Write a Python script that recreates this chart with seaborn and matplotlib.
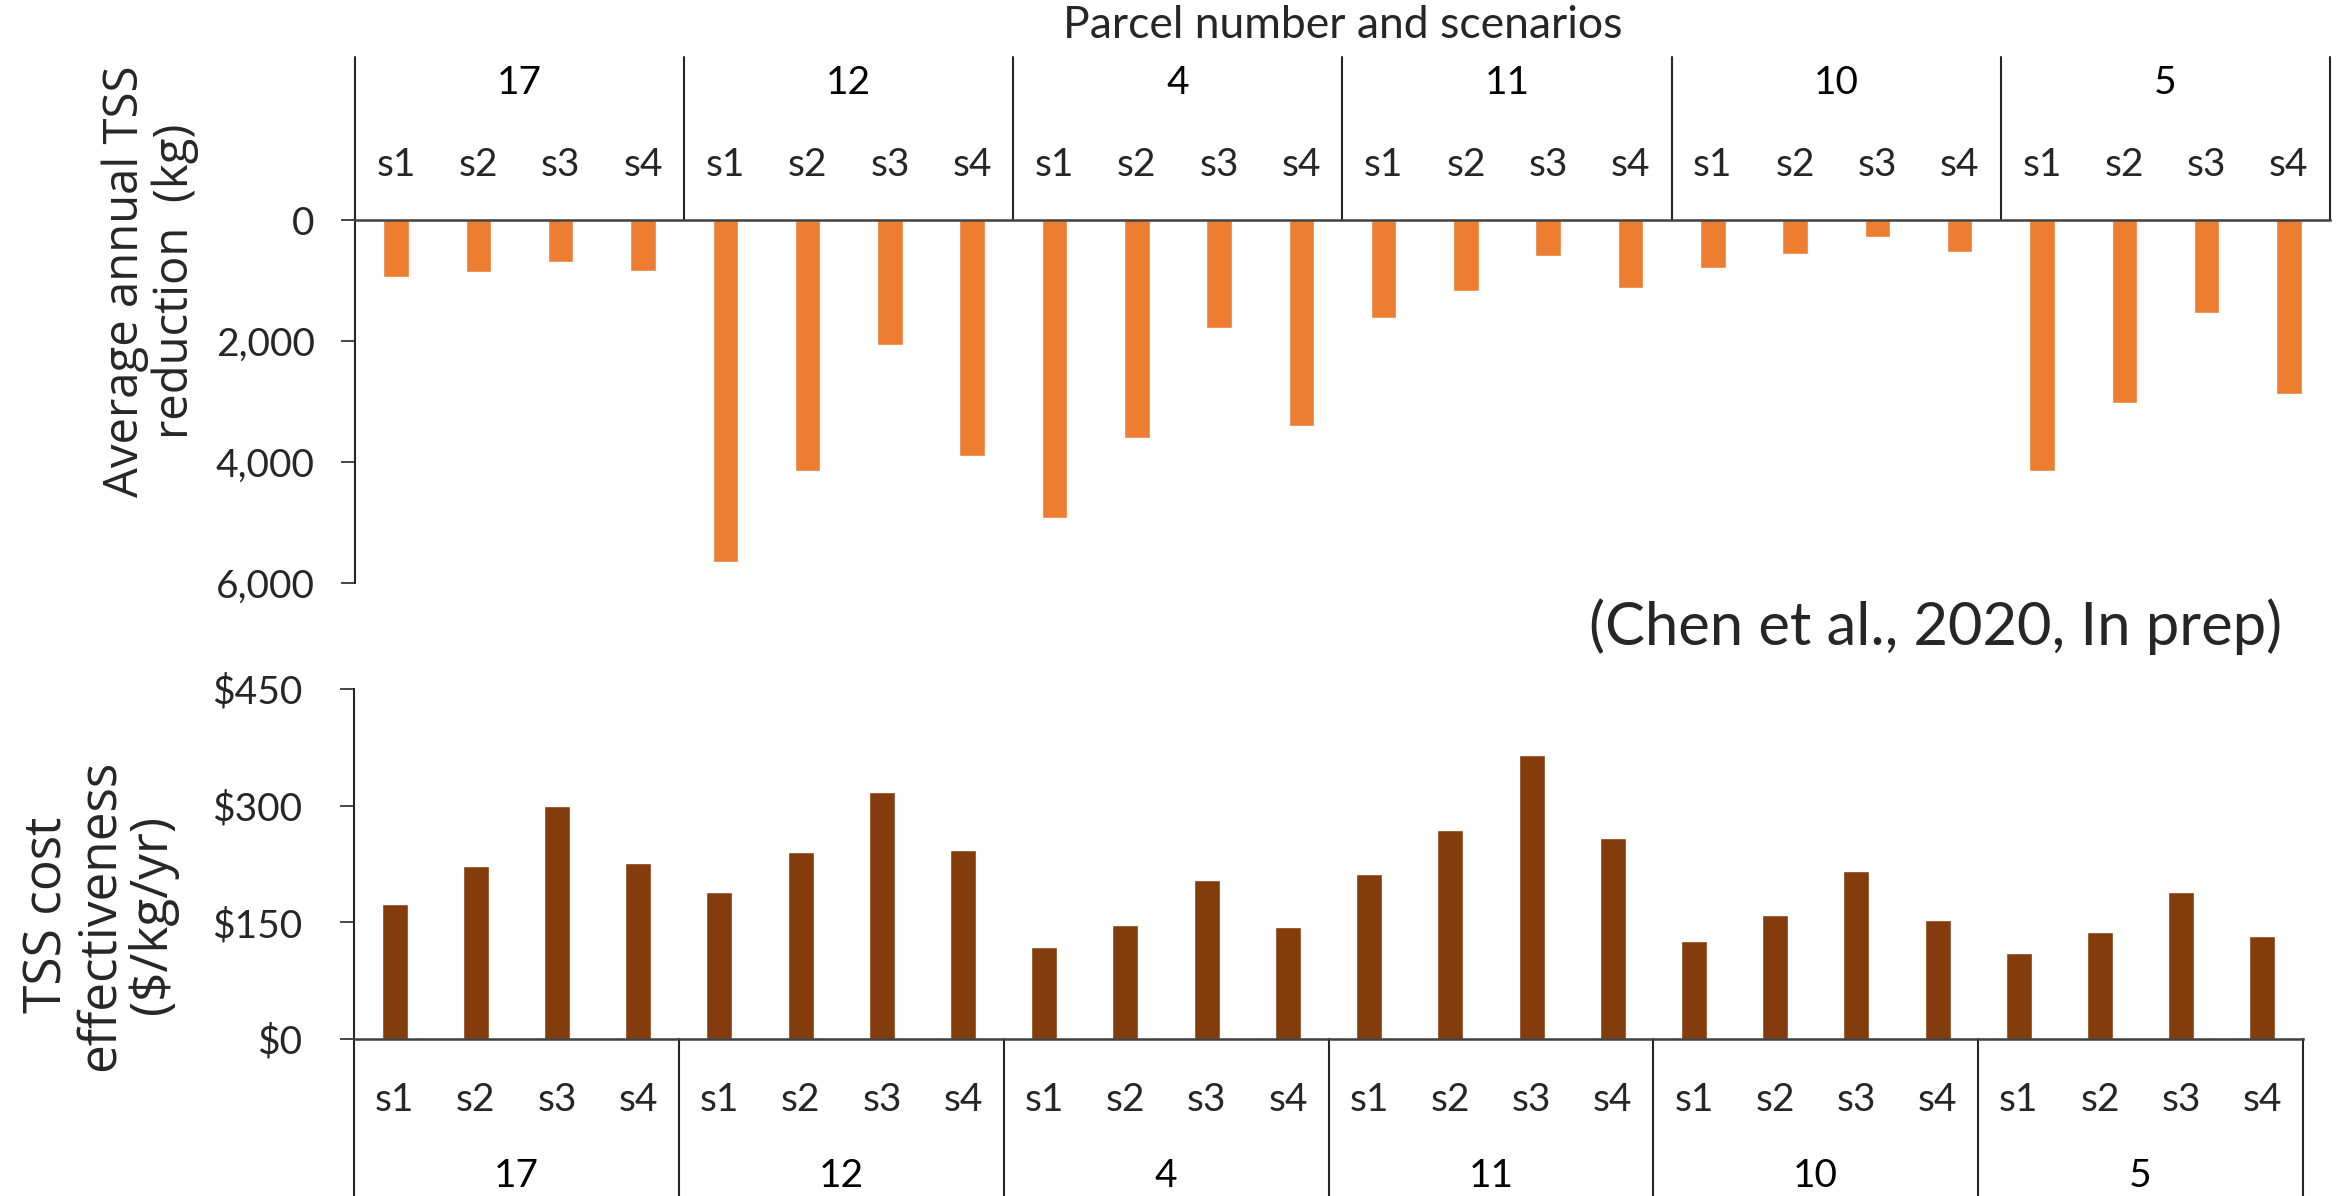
import matplotlib
matplotlib.use("Agg")
import matplotlib.pyplot as plt
import matplotlib.transforms as mtransforms
from matplotlib.ticker import FuncFormatter
import pandas as pd
import seaborn as sns

W, H = 2346, 1196

parcels = ["17", "12", "4", "11", "10", "5"]
scenarios = ["s1", "s2", "s3", "s4"]

# average annual TSS reduction (kg), 4 scenarios per parcel
tss_reduction = [947, 865, 700, 837,
                 5647, 4142, 2068, 3907,
                 4919, 3601, 1789, 3403,
                 1614, 1176, 596, 1122,
                 788, 558, 274, 531,
                 4142, 3026, 1532, 2873]

# TSS cost effectiveness ($/kg/yr)
cost_effectiveness = [174, 222, 300, 226,
                      189, 240, 318, 243,
                      118, 147, 204, 144,
                      212, 269, 365, 259,
                      126, 159, 216, 153,
                      110, 138, 189, 133]

ORANGE = "#ED7D31"
BROWN = "#843C0C"
LINE = "#262626"
TICK_FONT = ["Lato", "DejaVu Sans"]
LABEL_FONT = ["Open Sans", "DejaVu Sans"]

df = pd.DataFrame({
    "parcel": [p for p in parcels for s in scenarios],
    "scenario": scenarios * len(parcels),
    "tss": tss_reduction,
    "cost": cost_effectiveness,
})
df["slot"] = df["parcel"] + " " + df["scenario"]
slots = list(df["slot"])

sns.set_theme(style="white")
plt.rcParams["font.family"] = TICK_FONT

fig = plt.figure(figsize=(W / 100, H / 100), dpi=100)


def px_axes(left, top, right, bottom):
    return fig.add_axes([left / W, 1 - bottom / H, (right - left) / W, (bottom - top) / H])


def category_frame(ax, frame_frac, group_frac, lw=1.5):
    trans = mtransforms.blended_transform_factory(ax.transData, ax.transAxes)
    for i in range(len(parcels) + 1):
        b = i * len(scenarios) - 0.5
        ax.plot([b, b], frame_frac, transform=trans, clip_on=False,
                color=LINE, lw=lw)
    for i, p in enumerate(parcels):
        c = i * len(scenarios) + (len(scenarios) - 1) / 2
        ax.text(c, group_frac, p, transform=trans, ha="center", va="center",
                fontsize=28, family=TICK_FONT, color="black")


# ---- top panel: TSS reduction (axis inverted) ----
ax1 = px_axes(355, 220, 2330, 583)
sns.barplot(df, x="slot", y="tss", order=slots, color=ORANGE, width=0.31,
            saturation=1, ax=ax1)
ax1.set_xlim(-0.5, len(slots) - 0.5)
ax1.set_ylim(6000, 0)
ax1.set_yticks([0, 2000, 4000, 6000])
ax1.yaxis.set_major_formatter(FuncFormatter(lambda v, _: "{:,.0f}".format(v)))
ax1.xaxis.tick_top()
ax1.set_xticks(range(len(slots)))
ax1.set_xticklabels(df["scenario"])
ax1.set_xlabel("")
ax1.set_ylabel("")
ax1.tick_params(axis="x", length=0, pad=27, labelsize=28)
ax1.tick_params(axis="y", left=True, direction="out", length=10, width=1.2,
                color=LINE, pad=19, labelsize=28)
for side in ["right", "bottom"]:
    ax1.spines[side].set_visible(False)
ax1.spines["left"].set_color(LINE)
ax1.spines["left"].set_linewidth(1.5)
ax1.spines["top"].set_color("#404040")
ax1.spines["top"].set_linewidth(1.8)
h1 = 583 - 220
category_frame(ax1, [1, 1 + (220 - 57) / h1], 1 + (220 - 83) / h1)

# ---- bottom panel: cost effectiveness ----
ax2 = px_axes(354, 689, 2303, 1039)
sns.barplot(df, x="slot", y="cost", order=slots, color=BROWN, width=0.32,
            saturation=1, ax=ax2)
ax2.set_xlim(-0.5, len(slots) - 0.5)
ax2.set_ylim(0, 450)
ax2.set_yticks([0, 150, 300, 450])
ax2.yaxis.set_major_formatter(FuncFormatter(lambda v, _: "\\${:,.0f}".format(v)))
ax2.set_xticks(range(len(slots)))
ax2.set_xticklabels(df["scenario"])
ax2.set_xlabel("")
ax2.set_ylabel("")
ax2.tick_params(axis="x", length=0, pad=31, labelsize=28)
ax2.tick_params(axis="y", left=True, direction="out", length=10, width=1.2,
                color=LINE, pad=27, labelsize=28)
for side in ["right", "top"]:
    ax2.spines[side].set_visible(False)
ax2.spines["left"].set_color(LINE)
ax2.spines["left"].set_linewidth(1.5)
ax2.spines["bottom"].set_color("#404040")
ax2.spines["bottom"].set_linewidth(1.8)
h2 = 1039 - 689
category_frame(ax2, [0, -(1196 - 1039 + 5) / h2], -(1176 - 1039) / h2)

# ---- figure texts ----
fig.text(1343 / W, 1 - 25 / H, "Parcel number and scenarios", ha="center",
         va="center", fontsize=32, family=TICK_FONT)
fig.text(150 / W, 1 - 281 / H, "Average annual TSS\nreduction  (kg)",
         rotation=90, ha="center", va="center", multialignment="center",
         fontsize=34, family=LABEL_FONT, linespacing=1.08)
fig.text(100 / W, 1 - 915 / H, "TSS cost\neffectiveness\n(\\$/kg/yr)",
         rotation=90, ha="center", va="center", multialignment="center",
         fontsize=37, family=LABEL_FONT, linespacing=1.03)
fig.text(2282 / W, 1 - 627 / H, "(Chen et al., 2020, In prep)", ha="right",
         va="center", fontsize=43, family=TICK_FONT)

fig.savefig("out.png", dpi=100, facecolor="white")
